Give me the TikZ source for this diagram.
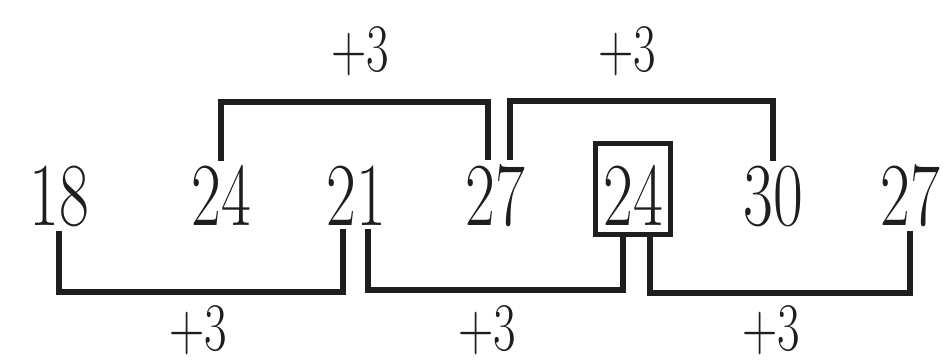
\documentclass[tikz,border=0pt]{standalone}
\usepackage{graphicx}
\usepackage{xcolor}
\usepackage{tikz}
\usetikzlibrary{positioning}
\definecolor{ink}{HTML}{1E1E1E}
\newcommand{\narrow}[1]{\scalebox{0.72}[1]{#1}}

\begin{document}
\begin{tikzpicture}[x=1pt, y=-1pt,
  num/.style={font=\fontsize{90}{90}\selectfont, text=ink, inner sep=4pt, anchor=base},
  boxed/.style={draw=ink, line width=5pt, text height=79pt, text depth=6pt,
                inner xsep=8pt, inner ysep=3pt},
  brk/.style={draw=ink, line width=6pt},
  plus/.style={font=\fontsize{68}{68}\selectfont, text=ink, inner sep=0pt},
]
\useasboundingbox (0,0) rectangle (947,362);

\foreach \name/\v/\x in {n1/18/59, n2/24/221, n3/21/356, n4/27/495, n6/30/773, n7/27/910}{
  \node[num] (\name) at (\x,225) {\narrow{\v}};
}
\node[num, boxed] (n5) at (633,225) {\narrow{24}};

% upper brackets
\draw[brk] (n2.north) -- ++(0,-59) -| ([xshift=-7pt]n4.north);
\draw[brk] ([xshift=15pt]n4.north) -- ++(0,-59) -| (n6.north);

% lower brackets
\draw[brk] (n1.south) -- ++(0,61) -| ([xshift=-13pt]n3.south);
\draw[brk] ([xshift=12pt]n3.south) -- ++(0,61) -| ([xshift=-10pt]n5.south);
\draw[brk] ([xshift=17pt]n5.south) -- ++(0,56) -| (n7.south);

\node[plus] (u1) at (360,51) {\narrow{+3}};
\node[plus] (u2) at (627,51) {\narrow{+3}};
\node[plus] (d1) at (198,330) {\narrow{+3}};
\node[plus] (d2) at (487,330) {\narrow{+3}};
\node[plus] (d3) at (771,330) {\narrow{+3}};
\end{tikzpicture}
\end{document}
